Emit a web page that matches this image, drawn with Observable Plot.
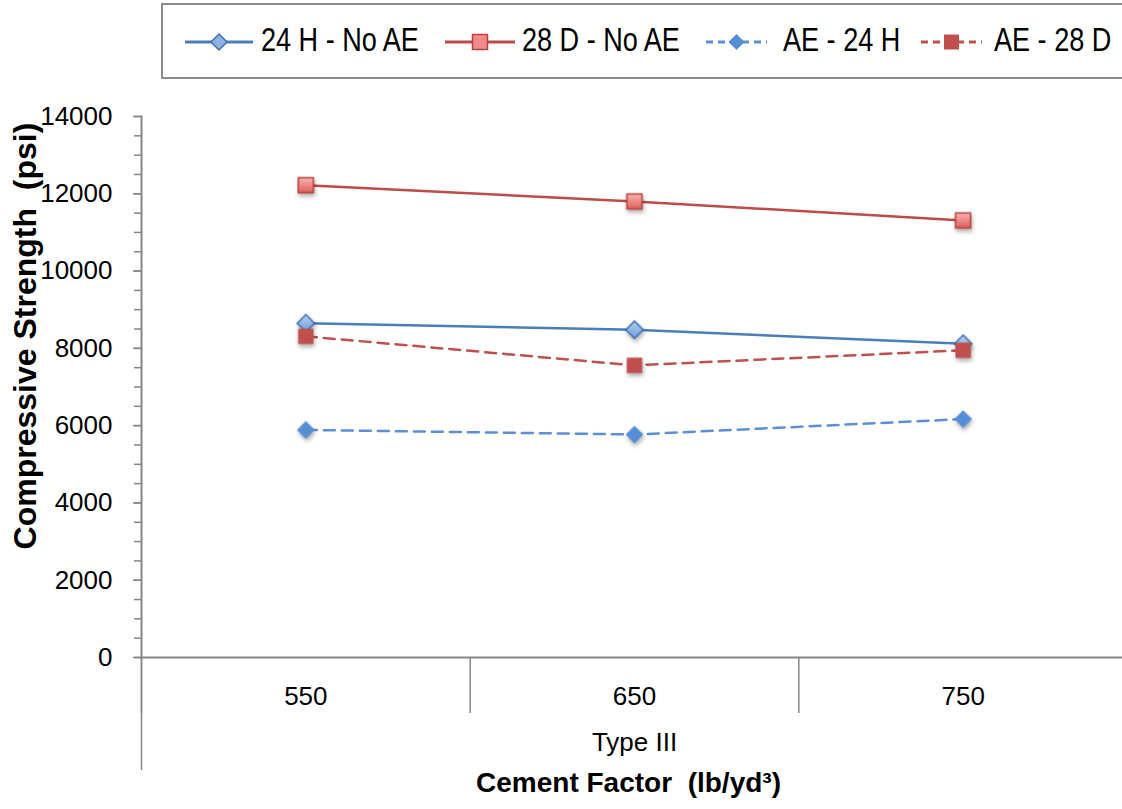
<!DOCTYPE html>
<html><head><meta charset="utf-8">
<script src="https://cdn.jsdelivr.net/npm/d3@7"></script>
<script src="https://cdn.jsdelivr.net/npm/@observablehq/plot@0.6"></script>
<style>
body{margin:0;background:#fff;overflow:hidden;font-family:"Liberation Sans",Arial,sans-serif;}
#legend{position:relative;width:1122px;height:88px;overflow:hidden;}
#legend .box{position:absolute;left:161px;top:3px;width:1000px;height:76px;border:2px solid #8a8a8a;box-sizing:border-box;}
#legend svg.sw{position:absolute;top:31px;display:block}
#legend span.lab{position:absolute;top:21px;font-size:33px;line-height:38px;white-space:nowrap;color:#000;
  display:inline-block;transform:scaleX(0.82);transform-origin:0 50%;}
</style></head><body>
<div id="legend"><div class="box"></div></div>
<div id="chart"></div>
<script>
// ---- data ----
const cementFactors = ["550", "650", "750"];
const groupLabel = "Type III";
const xTitle = "Cement Factor  (lb/yd³)";
const yTitle = "Compressive Strength  (psi)";
const seriesNames = ["24 H - No AE", "28 D - No AE", "AE - 24 H", "AE - 28 D"];
const h24NoAE = [8650, 8480, 8120];
const d28NoAE = [12220, 11800, 11310];
const ae24H = [5890, 5770, 6170];
const ae28D = [8310, 7560, 7950];
const yTicks = [0, 2000, 4000, 6000, 8000, 10000, 12000, 14000];

const seriesValues = [h24NoAE, d28NoAE, ae24H, ae28D];
const seriesStyle = [
  {line: "#4A7EBB", dash: null, symbol: "diamond2", fill: "url(#gBlue)", lfill: "#8DB3E2", mstroke: "#3F6FAE", r: 7.8},
  {line: "#BE4B48", dash: null, symbol: "square", fill: "url(#gRed)", lfill: "#F08A87", mstroke: "#B8403D", r: 8.5},
  {line: "#5B8FD8", dash: "11,7", symbol: "diamond2", fill: "#558ED5", lfill: "#558ED5", mstroke: "none", r: 8},
  {line: "#C0504D", dash: "11,7", symbol: "square", fill: "#C0504D", lfill: "#C0504D", mstroke: "none", r: 8.7}
];
// legend layout (swatch left, swatch width, label left)
const legendLayout = [[185, 68, 261], [445, 70, 522], [706, 61, 783], [921, 61, 994]];

const rows = seriesNames.map((name, s) =>
  seriesValues[s].map((v, i) => ({series: name, s, i, value: v}))
);

// ---- legend ----
const legend = d3.select("#legend");
seriesNames.forEach((name, s) => {
  const st = seriesStyle[s];
  const [sx, W, tx] = legendLayout[s];
  const H = 22;
  const svg = legend.append("svg").attr("class", "sw").style("left", sx + "px").attr("width", W).attr("height", H);
  svg.append("line").attr("x1", 0).attr("x2", W).attr("y1", H / 2).attr("y2", H / 2)
    .attr("stroke", st.line).attr("stroke-width", 3)
    .attr("stroke-dasharray", st.dash ? "7,5" : null);
  if (st.symbol === "square") {
    svg.append("rect").attr("x", W / 2 - 7.5).attr("y", H / 2 - 7.5).attr("width", 15).attr("height", 15)
      .attr("fill", st.lfill).attr("stroke", st.mstroke).attr("stroke-width", 1.5);
  } else {
    const c = W / 2, m = H / 2, d = 8;
    svg.append("polygon").attr("points", `${c},${m - d} ${c + d},${m} ${c},${m + d} ${c - d},${m}`)
      .attr("fill", st.lfill).attr("stroke", st.mstroke).attr("stroke-width", 1.5);
  }
  legend.append("span").attr("class", "lab").style("left", tx + "px").text(name);
});

// ---- chart ----
const axisColor = "#868686";
const marks = [
  Plot.axisY({interval: 500, tickSize: 7, text: null, stroke: axisColor, strokeWidth: 1.5, label: null}),
  Plot.axisY({ticks: yTicks, tickSize: 8, tickPadding: 21, tickFormat: d3.format("d"), fontSize: 26,
    stroke: axisColor, strokeWidth: 1.5, fill: "#000", label: null}),
  Plot.axisX({ticks: [-0.5, 0.5, 1.5, 2.5], tickSize: 56, text: null, stroke: axisColor, strokeWidth: 1.5, label: null}),
  Plot.axisX({ticks: [-0.5], tickSize: 113, text: null, stroke: axisColor, strokeWidth: 1.5, label: null}),
  Plot.axisX({ticks: [0, 1, 2], tickSize: 0, tickPadding: 29, tickFormat: i => cementFactors[i],
    fontSize: 26, fill: "#000", label: null}),
  Plot.frame({anchor: "left", stroke: axisColor, strokeWidth: 2}),
  Plot.frame({anchor: "bottom", stroke: axisColor, strokeWidth: 2}),
  Plot.text([groupLabel], {text: d => d, frameAnchor: "bottom", dy: 93, fontSize: 26, fill: "#000"}),
  Plot.text([xTitle], {text: d => d, frameAnchor: "bottom", dx: -6, dy: 134, fontSize: 28, fontWeight: "bold", fill: "#000"}),
  Plot.text([yTitle], {text: d => d, frameAnchor: "left", textAnchor: "middle", rotate: -90, dx: -116, dy: -51,
    fontSize: 32, fontWeight: "bold", fill: "#000"})
];
rows.forEach((data, s) => {
  const st = seriesStyle[s];
  marks.push(Plot.line(data, {x: "i", y: "value", stroke: st.line, strokeWidth: 2.5, strokeDasharray: st.dash}));
});
rows.forEach((data, s) => {
  const st = seriesStyle[s];
  marks.push(Plot.dot(data, {x: "i", y: "value", symbol: () => st.symbol, r: st.r, fill: st.fill,
    stroke: st.mstroke, strokeWidth: 1.5}));
});

const chart = Plot.plot({
  width: 1122, height: 721,
  marginTop: 28, marginBottom: 152, marginLeft: 141, marginRight: -5,
  x: {type: "linear", domain: [-0.5, 2.5]},
  y: {domain: [0, 14000]},
  symbol: {type: "identity"},
  style: {fontFamily: "'Liberation Sans', Arial, sans-serif", fontSize: "26px", color: "#000", background: "#fff", overflow: "visible"},
  marks
});
// gradients for the light markers
const defs = d3.select(chart).insert("defs", ":first-child");
const gr = defs.append("linearGradient").attr("id", "gRed").attr("x1", 0).attr("y1", 0).attr("x2", 0).attr("y2", 1);
gr.append("stop").attr("offset", "0%").attr("stop-color", "#F9B5B3");
gr.append("stop").attr("offset", "100%").attr("stop-color", "#E05E5A");
const gb = defs.append("linearGradient").attr("id", "gBlue").attr("x1", 0).attr("y1", 0).attr("x2", 0).attr("y2", 1);
gb.append("stop").attr("offset", "0%").attr("stop-color", "#B7D0F0");
gb.append("stop").attr("offset", "100%").attr("stop-color", "#6E9DDC");
d3.select(chart).selectAll("g[aria-label='dot']").style("filter", "drop-shadow(1px 3px 2px rgba(0,0,0,0.3))");
document.getElementById("chart").append(chart);
</script>
</body></html>
